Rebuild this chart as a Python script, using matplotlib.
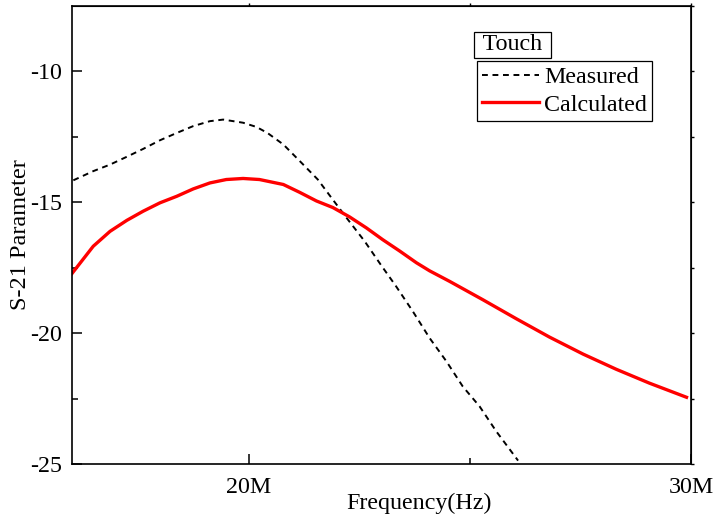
import matplotlib.pyplot as plt

plt.rcParams['font.family'] = ['Liberation Serif', 'DejaVu Serif']

# Measured S21 (frequency in MHz, dB)
freq_meas = [16.03, 16.48, 16.86, 17.24, 17.61, 17.99, 18.37, 18.74, 19.12, 19.42,
             19.87, 20.17, 20.42, 20.78, 21.19, 21.56, 21.90, 22.24, 22.62, 22.99,
             23.33, 23.71, 24.09, 24.47, 24.84, 25.22, 25.60, 26.09]
s21_meas = [-14.16, -13.81, -13.56, -13.26, -12.96, -12.63, -12.35, -12.09, -11.90, -11.84,
            -11.96, -12.12, -12.35, -12.79, -13.49, -14.13, -14.90, -15.66, -16.49, -17.40,
            -18.21, -19.17, -20.19, -21.08, -22.04, -22.80, -23.76, -24.87]

# Calculated S21
freq_calc = [16.0, 16.48, 16.86, 17.24, 17.61, 17.99, 18.37, 18.74, 19.12, 19.49,
             19.87, 20.24, 20.78, 21.15, 21.53, 21.90, 22.28, 22.66, 23.03, 23.41,
             23.79, 24.09, 24.54, 25.29, 26.05, 26.80, 27.56, 28.31, 29.06, 29.90]
s21_calc = [-17.72, -16.68, -16.11, -15.69, -15.34, -15.02, -14.77, -14.49, -14.26, -14.13,
            -14.09, -14.13, -14.32, -14.62, -14.95, -15.20, -15.56, -15.98, -16.43, -16.86,
            -17.31, -17.62, -18.02, -18.72, -19.45, -20.15, -20.80, -21.38, -21.91, -22.45]

fig = plt.figure(figsize=(7.18, 5.22), dpi=100)
ax = fig.add_axes([0.1003, 0.1111, 0.862, 0.8774])

ax.plot(freq_meas, s21_meas, color='black', linestyle=(0, (3.0, 2.4)), linewidth=1.4,
        label='Measured')
ax.plot(freq_calc, s21_calc, color='red', linewidth=2.4, label='Calculated')

ax.set_xlim(16, 30)
ax.set_ylim(-25, -7.5)
ax.set_xticks([20, 30])
ax.set_xticklabels(['20M', '30M'])
ax.set_xticks([25], minor=True)
ax.set_yticks([-25, -20, -15, -10])
ax.set_yticklabels(['-25', '-20', '-15', '-10'])
ax.set_yticks([-22.5, -17.5, -12.5], minor=True)

ax.tick_params(which='major', direction='in', length=7, width=1.1, labelsize=17.3)
ax.tick_params(axis='x', which='major', pad=9)
ax.tick_params(axis='y', which='major', pad=7)
ax.tick_params(which='minor', direction='in', length=4.5, width=1.1)
for sp in ax.spines.values():
    sp.set_linewidth(1.2)

# tiny outward ticks on the right and top frame
sec_y = ax.secondary_yaxis('right')
sec_y.set_yticks([-25, -22.5, -20, -17.5, -15, -12.5, -10, -7.5])
sec_y.tick_params(direction='out', length=2.5, width=1.0, labelright=False)
sec_x = ax.secondary_xaxis('top')
sec_x.set_xticks([20, 25, 30])
sec_x.tick_params(direction='out', length=2, width=1.0, labeltop=False)

ax.set_xlabel('Frequency(Hz)', fontsize=17.3)
ax.xaxis.set_label_coords(0.561, -0.062)
ax.set_ylabel('S-21 Parameter', fontsize=17.5)
ax.yaxis.set_label_coords(-0.066, 0.5)

leg = ax.legend(loc='upper left', bbox_to_anchor=(0.654, 0.879), fontsize=17.3,
                frameon=True, fancybox=False, edgecolor='black', framealpha=1,
                handlelength=2.4, handletextpad=0.2, borderpad=0.2, labelspacing=0.25,
                borderaxespad=0)
leg.get_frame().set_linewidth(0.9)

ax.text(0.654, 0.892, ' Touch ', transform=ax.transAxes, fontsize=17.3,
        ha='left', va='bottom',
        bbox=dict(boxstyle='square,pad=0.12', facecolor='white', edgecolor='black', linewidth=0.9))

fig.savefig('out.png', dpi=100)
